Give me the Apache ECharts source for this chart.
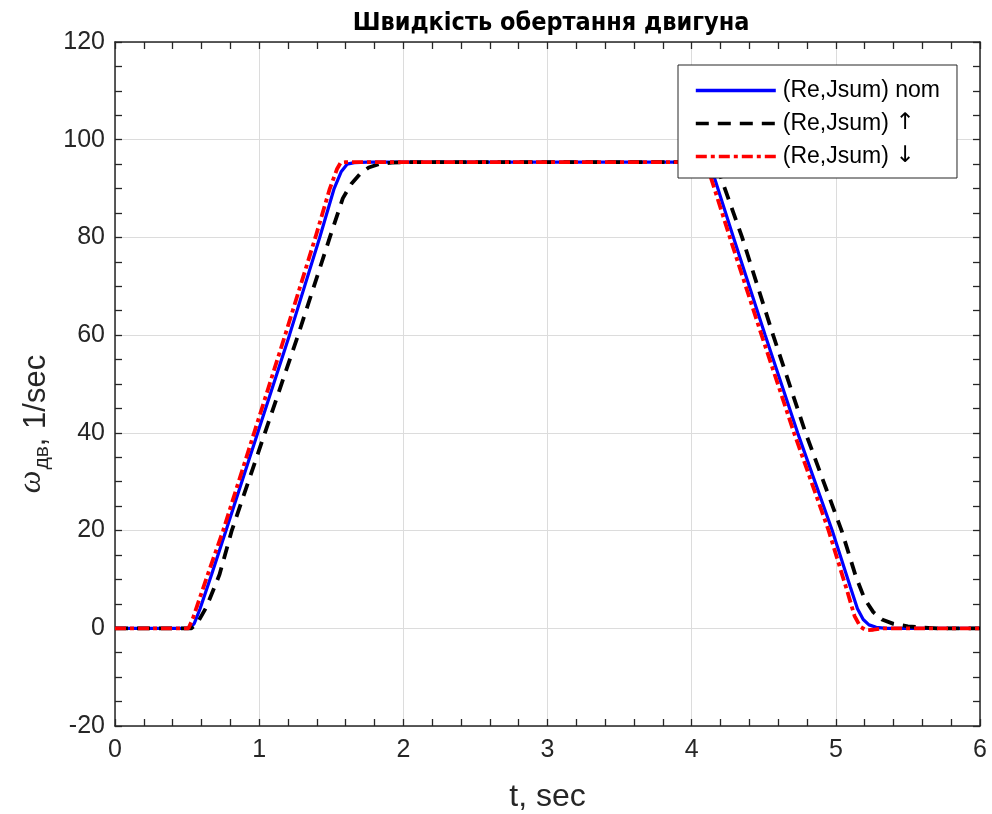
<!DOCTYPE html>
<html>
<head>
<meta charset="utf-8">
<script src="https://cdn.jsdelivr.net/npm/echarts@6/dist/echarts.min.js"></script>
<style>
html,body{margin:0;padding:0;background:#fff;}
#chart{width:992px;height:814px;}
</style>
</head>
<body>
<div id="chart"></div>
<script>
// ---- data ----
const titleText = 'Швидкість обертання двигуна';
const seriesNames = ['(Re,Jsum) nom', '(Re,Jsum) ↑', '(Re,Jsum) ↓'];
const xTicks = [0, 1, 2, 3, 4, 5, 6];
const yTicks = [-20, 0, 20, 40, 60, 80, 100, 120];

const nomT = [0, 0.52, 0.55, 0.59, 0.67, 0.77, 0.99, 1.21, 1.42, 1.52, 1.57, 1.61, 1.66, 1.75, 4.10, 4.13, 4.16, 4.29, 4.51, 4.735, 4.975, 5.10, 5.15, 5.19, 5.23, 5.28, 5.35, 6];
const nomV = [0, 0, 1, 4, 11, 20, 40, 60, 80, 90, 93.5, 95, 95.3, 95.4, 95.4, 94.7, 92, 80, 60, 40, 20, 8.5, 4, 1.8, 0.7, 0.2, 0, 0];

const upT = [0, 0.53, 0.57, 0.635, 0.725, 0.81, 1.04, 1.27, 1.49, 1.58, 1.64, 1.70, 1.76, 1.83, 1.92, 2.0, 4.12, 4.16, 4.20, 4.35, 4.565, 4.79, 5.04, 5.14, 5.20, 5.26, 5.32, 5.40, 5.50, 5.60, 5.70, 6];
const upV = [0, 0, 1, 4.4, 11, 20, 40, 60, 80, 88, 91, 93, 94.3, 95, 95.3, 95.4, 95.4, 94.8, 92.5, 80, 60, 40, 20, 10.5, 6, 3.3, 1.8, 0.9, 0.4, 0.15, 0, 0];

const downT = [0, 0.51, 0.54, 0.58, 0.655, 0.75, 0.965, 1.18, 1.39, 1.49, 1.54, 1.565, 1.60, 4.08, 4.12, 4.265, 4.485, 4.71, 4.95, 5.08, 5.13, 5.17, 5.21, 5.26, 5.32, 6];
const downV = [0, 0, 2, 5.5, 12, 20, 40, 60, 80, 90, 94, 95.3, 95.4, 95.4, 93.5, 80, 60, 40, 20, 7.5, 2.5, 0.3, -0.4, -0.3, 0, 0];

function zip(t, v) { return t.map((x, i) => [x, v[i]]); }

const txt = '#262626';
const font = 'Liberation Sans, Arial, Helvetica, sans-serif';

function xAxisCfg(pos, labels) {
  return {
    type: 'value', position: pos,
    min: xTicks[0], max: xTicks[xTicks.length - 1], interval: 1,
    axisLine: { show: true, onZero: false, lineStyle: { color: txt, width: 1.5 } },
    axisTick: { show: true, inside: true, length: 7, lineStyle: { color: txt, width: 1.3 } },
    minorTick: { show: true, splitNumber: 5, length: 7, lineStyle: { color: txt, width: 1.3 } },
    axisLabel: { show: labels, color: txt, fontSize: 25, fontFamily: font, margin: 12 },
    splitLine: { show: labels, lineStyle: { color: '#dcdcdc', width: 1 } },
    name: labels ? 't, sec' : '', nameLocation: 'middle', nameGap: 55,
    nameTextStyle: { color: txt, fontSize: 32, fontFamily: font }
  };
}
function yAxisCfg(pos, labels) {
  return {
    type: 'value', position: pos,
    min: yTicks[0], max: yTicks[yTicks.length - 1], interval: 20,
    axisLine: { show: true, onZero: false, lineStyle: { color: txt, width: 1.5 } },
    axisTick: { show: true, inside: true, length: 7, lineStyle: { color: txt, width: 1.3 } },
    minorTick: { show: true, splitNumber: 4, length: 7, lineStyle: { color: txt, width: 1.3 } },
    axisLabel: { show: labels, color: txt, fontSize: 25, fontFamily: font, margin: 10 },
    splitLine: { show: labels, lineStyle: { color: '#dcdcdc', width: 1 } },
    name: labels ? '{w|ω}{s|дв}{n|, 1/sec}' : '', nameLocation: 'middle', nameGap: 56,
    nameTextStyle: {
      color: txt, fontSize: 31, fontFamily: font, padding: [0, 80, 0, 0],
      rich: {
        w: { fontSize: 32, fontStyle: 'italic', fontFamily: 'Liberation Serif, serif', color: txt, padding: [0, 1, 10, 0] },
        s: { fontSize: 21, fontFamily: font, color: txt, padding: [10, 0, 0, 0] },
        n: { fontSize: 31, fontFamily: font, color: txt }
      }
    }
  };
}

const chart = echarts.init(document.getElementById('chart'), null, { renderer: 'canvas' });
chart.setOption({
  backgroundColor: '#ffffff',
  animation: false,
  title: {
    text: titleText, left: 546, top: 6, textAlign: 'center',
    textStyle: { color: '#000', fontSize: 25, fontWeight: 'bold', fontFamily: 'Liberation Sans Narrow, DejaVu Sans Condensed, Arial, sans-serif' }
  },
  grid: { left: 115, top: 42, width: 865, height: 684, containLabel: false, outerBoundsMode: 'none' },
  xAxis: [xAxisCfg('bottom', true), xAxisCfg('top', false)],
  yAxis: [yAxisCfg('left', true), yAxisCfg('right', false)],
  legend: {
    orient: 'vertical', left: 678, top: 65,
    padding: [14, 17, 10, 16], itemGap: 10, itemWidth: 80, itemHeight: 22,
    backgroundColor: '#ffffff', borderColor: '#262626', borderWidth: 1,
    itemStyle: { opacity: 0 },
    lineStyle: { width: 3.6 },
    textStyle: {
      color: '#000', fontSize: 23, fontFamily: font, padding: [0, 0, 0, 2],
      rich: { a: { fontSize: 23, fontFamily: 'DejaVu Sans, sans-serif', color: '#000' } }
    },
    formatter: function (name) { return name.replace(/([↑↓])/, '{a|$1}'); },
    data: seriesNames
  },
  series: [
    { name: seriesNames[0], type: 'line', data: zip(nomT, nomV), symbol: 'none', smooth: false,
      lineStyle: { color: '#0000ff', width: 3.2 }, itemStyle: { color: '#0000ff' } },
    { name: seriesNames[1], type: 'line', data: zip(upT, upV), symbol: 'none', smooth: false,
      lineStyle: { color: '#000000', width: 3.8, type: [13, 9] }, itemStyle: { color: '#000000' } },
    { name: seriesNames[2], type: 'line', data: zip(downT, downV), symbol: 'none', smooth: false,
      lineStyle: { color: '#ff0000', width: 3.8, type: [11, 4, 4, 4] }, itemStyle: { color: '#ff0000' } }
  ]
});
</script>
</body>
</html>
